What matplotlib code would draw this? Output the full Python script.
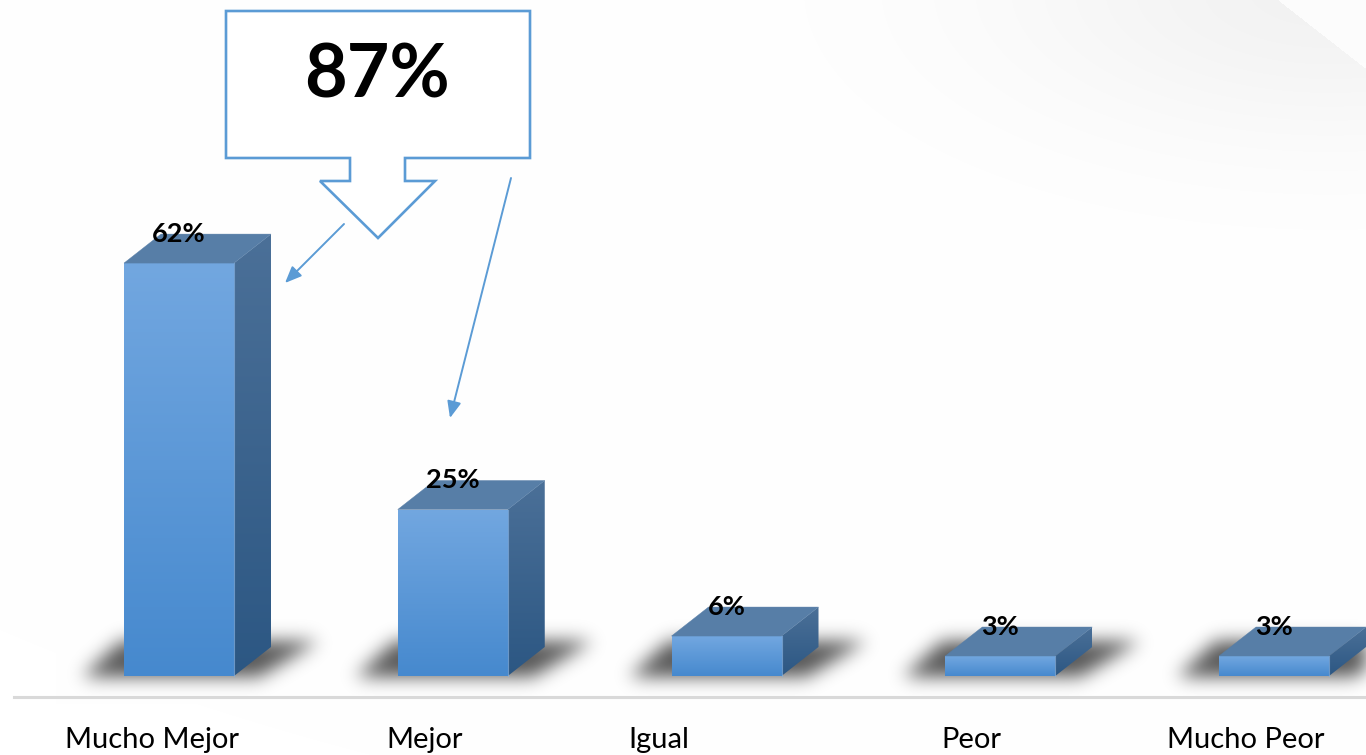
import numpy as np
import matplotlib
matplotlib.use("Agg")
import matplotlib.pyplot as plt
from matplotlib.path import Path
from matplotlib.patches import Polygon, FancyArrowPatch
from matplotlib.lines import Line2D
from matplotlib.colors import LinearSegmentedColormap

# ---- data -------------------------------------------------------------
categories = ["Mucho Mejor", "Mejor", "Igual", "Peor", "Mucho Peor"]
values = [62, 25, 6, 3, 3]
value_labels = ["62%", "25%", "6%", "3%", "3%"]
highlight_total = "87%"          # Mucho Mejor + Mejor

# ---- layout (pixels) ----------------------------------------------------
W, H, DPI = 1366, 755, 100
SLOT = 273.75        # distance between bar centres
X0 = 179             # centre of first bar
BASE = 676           # baseline, from top
PCT = 6.66           # pixels per percentage point
BAR_W = 110 / SLOT   # bar width in category units
DEPTH_X = 37 / SLOT  # 3-D depth offset
DEPTH_Y = 29 / PCT
LABEL_SHIFT = [-27, -28, -68, -29, -28]   # horizontal nudge of category names

FONT = ["Lato", "DejaVu Sans"]
BLUE_LINE = "#5B9BD5"

fig = plt.figure(figsize=(W / DPI, H / DPI), dpi=DPI)
fig.patch.set_facecolor("white")

bg = fig.add_axes([0, 0, 1, 1], zorder=0)
bg.set_xlim(0, W)
bg.set_ylim(H, 0)
bg.axis("off")

ax = fig.add_axes([0, 0, 1, 1], zorder=1)
ax.patch.set_alpha(0)
ax.set_xlim(-X0 / SLOT, (W - X0) / SLOT)
ax.set_ylim(-(H - BASE) / PCT, BASE / PCT)
ax.set_autoscale_on(False)
ax.axis("off")


def to_px(x, y):
    """data -> pixel coordinates with origin at top-left"""
    d = ax.transData.transform((x, y))
    return d[0], H - d[1]


def fig_px(x, y):
    return x / W, 1 - y / H


def blur(a, s):
    r = int(3 * s)
    k = np.exp(-0.5 * (np.arange(-r, r + 1) / s) ** 2)
    k /= k.sum()
    p = np.pad(a, ((r, r), (0, 0)), mode="constant")
    a = sum(k[j] * p[j:j + a.shape[0]] for j in range(2 * r + 1))
    p = np.pad(a, ((0, 0), (r, r)), mode="constant")
    a = sum(k[j] * p[:, j:j + a.shape[1]] for j in range(2 * r + 1))
    return a


# ---- background: faint grey sheen in the upper right + floor shadows ----
yy, xx = np.mgrid[0:H, 0:W].astype(float)
dark = 0.05 * np.exp(-(((xx - 1330) / 330) ** 2 + ((yy + 10) / 150) ** 2))
wedge = (yy < (xx - 1278) * 68 / 87)
dark = np.where(wedge, dark * 0.2, dark)

mask = np.zeros((H, W))
pts = np.column_stack([xx.ravel() + 0.5, yy.ravel() + 0.5])
dxp, dyp = 37, 29
for i, v in enumerate(values):
    xl, b = to_px(i - BAR_W / 2, 0)
    xr, _ = to_px(i + BAR_W / 2, 0)
    shadow = Path([(xl - 42, b + 1), (xr + 25, b + 1),
                   (xr + dxp + 48, b - dyp - 6), (xl + dxp - 40, b - dyp - 6)])
    sel = (pts[:, 0] > xl - 80) & (pts[:, 0] < xr + 120) & \
          (pts[:, 1] > b - 80) & (pts[:, 1] < b + 40)
    inside = np.zeros(len(pts), bool)
    inside[sel] = shadow.contains_points(pts[sel])
    mask = np.maximum(mask, inside.reshape(H, W).astype(float))
mask = blur(mask, 9)
shade = (1 - dark) * (1 - 0.66 * mask)
img = np.dstack([shade, shade, shade])
bg.imshow(img, extent=(0, W, H, 0), origin="upper", aspect="auto",
          interpolation="bilinear")

# ---- baseline ------------------------------------------------------------
fig.add_artist(Line2D([fig_px(14, 0)[0], 1.0], [fig_px(0, 697)[1]] * 2,
                      transform=fig.transFigure, color="#D9D9D9", lw=2.2))


# ---- 3-D bars ------------------------------------------------------------
def gradient_face(poly, x0, x1, y0, y1, c_top, c_bot, z):
    patch = Polygon(poly, closed=True, facecolor="none", edgecolor="none")
    ax.add_patch(patch)
    cmap = LinearSegmentedColormap.from_list("face", [c_bot, c_top])
    grad = np.linspace(0, 1, 256).reshape(-1, 1)
    im = ax.imshow(grad, extent=(x0, x1, y0, y1), origin="lower", cmap=cmap,
                   aspect="auto", interpolation="bilinear", zorder=z)
    im.set_clip_path(patch)


for i, v in enumerate(values):
    l, r = i - BAR_W / 2, i + BAR_W / 2
    front = [(l, 0), (r, 0), (r, v), (l, v)]
    side = [(r, 0), (r + DEPTH_X, DEPTH_Y), (r + DEPTH_X, v + DEPTH_Y), (r, v)]
    top = [(l, v), (r, v), (r + DEPTH_X, v + DEPTH_Y), (l + DEPTH_X, v + DEPTH_Y)]
    gradient_face(front, l, r, 0, v, "#72A7E0", "#4689CE", 3)
    gradient_face(side, r, r + DEPTH_X, 0, v + DEPTH_Y, "#4B7098", "#2C5783", 3)
    ax.add_patch(Polygon(top, closed=True, facecolor="#577EA7",
                         edgecolor="#577EA7", lw=0.3, zorder=3))
    ax.plot([r, r], [0, v], color="#86B2E2", lw=0.8, alpha=0.7, zorder=4)
    ax.annotate(value_labels[i], xy=(i, v + DEPTH_Y), ha="center", va="center",
                fontsize=19.5, fontweight="bold", family=FONT, color="black",
                zorder=6)
    ax.annotate(categories[i], xy=(i, 0), xytext=(LABEL_SHIFT[i], -72),
                textcoords="offset pixels", ha="center", va="baseline",
                fontsize=21, family=FONT, color="black", zorder=6)

# ---- callout box with the combined share --------------------------------
callout = [(226, 11), (530, 11), (530, 158), (405, 158), (405, 181),
           (435, 181), (378, 238), (320, 181), (350, 181), (350, 158),
           (226, 158)]
fig.add_artist(Polygon([fig_px(*p) for p in callout], closed=True,
                       transform=fig.transFigure, facecolor="white",
                       edgecolor=BLUE_LINE, lw=1.9, joinstyle="miter"))
fig.text(*fig_px(377, 70), highlight_total, ha="center", va="center_baseline",
         fontsize=53, fontweight="bold", family=FONT, color="black")

# pointers to the two bars that make up the total
for start, end in [((344, 224), (285, 283)), ((511, 178), (450, 418))]:
    fig.add_artist(FancyArrowPatch(
        fig_px(*start), fig_px(*end), transform=fig.transFigure,
        arrowstyle="-|>,head_length=10,head_width=4.2", mutation_scale=1,
        color=BLUE_LINE, lw=1.4, shrinkA=0, shrinkB=0))

fig.savefig("out.png", dpi=DPI, facecolor="white")
